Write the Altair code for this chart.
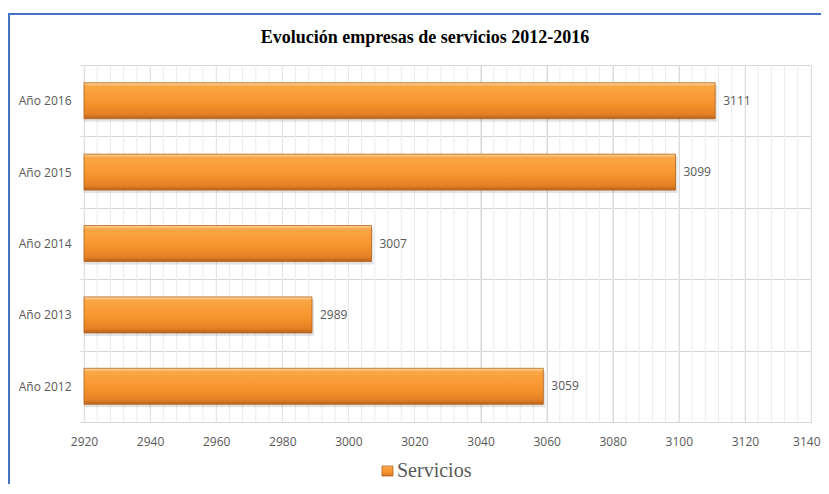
import altair as alt
import pandas as pd

# ---- data ----
years = ["Año 2016", "Año 2015", "Año 2014", "Año 2013", "Año 2012"]
values = [3111, 3099, 3007, 2989, 3059]
series_name = ["Servicios"]
chart_title = ["Evolución empresas de servicios 2012-2016"]
x_domain = [2920, 3140]
major_ticks = [2920, 2940, 2960, 2980, 3000, 3020, 3040, 3060, 3080, 3100, 3120, 3140]
minor_grid = list(range(2920, 3141, 4))

df = pd.DataFrame({"year": years, "value": values})
minor_df = pd.DataFrame({"g": minor_grid})

W, H = 727, 357
GRAY = "#595959"

bar_grad = alt.LinearGradient(
    gradient="linear", x1=0, x2=0, y1=0, y2=1,
    stops=[
        alt.GradientStop(offset=0.0, color="#FCD9A6"),
        alt.GradientStop(offset=0.10, color="#FAA645"),
        alt.GradientStop(offset=0.55, color="#F7952E"),
        alt.GradientStop(offset=0.88, color="#E48024"),
        alt.GradientStop(offset=1.0, color="#B5621C"),
    ],
)

xscale = alt.Scale(domain=x_domain, zero=False, nice=False)
yscale = alt.Scale(paddingInner=0, paddingOuter=0)

x_axis = alt.Axis(
    values=major_ticks,
    format="d",
    title=None,
    ticks=False,
    domain=False,
    grid=True,
    gridColor="#D6D6D6",
    labelFlush=False,
    labelOverlap=False,
    labelAlign={"condition": {"test": "datum.value >= 3140", "value": "right"}, "value": "center"},
    labelOffset={"condition": {"test": "datum.value >= 3140", "value": 9}, "value": 0},
    labelPadding=14,
    labelFont="Open Sans",
    labelFontSize=12,
    labelColor=GRAY,
)
y_axis = alt.Axis(
    title=None,
    tickBand="extent",
    grid=True,
    gridColor="#D6D6D6",
    domain=False,
    ticks=True,
    tickSize=4,
    tickColor="#D6D6D6",
    labelPadding=9,
    labelFont="Open Sans",
    labelFontSize=12,
    labelColor=GRAY,
)

minor = alt.Chart(minor_df).mark_rule(color="#EBEBEB", strokeWidth=1).encode(
    x=alt.X("g:Q", scale=xscale, axis=x_axis),
    y=alt.value(0),
    y2=alt.value(H),
)

base = alt.Chart(df)

shadow = base.mark_bar(size=36, color="#7F7F7F", opacity=0.22, yOffset=3, xOffset=2).encode(
    x=alt.X("value:Q", scale=xscale),
    x2=alt.datum(2920),
    y=alt.Y("year:N", sort=years, scale=yscale, axis=y_axis),
)

bars = base.mark_bar(size=36, color=bar_grad, stroke="#B8631C", strokeWidth=0.8).encode(
    x=alt.X("value:Q", scale=xscale),
    x2=alt.datum(2920),
    y=alt.Y("year:N", sort=years, scale=yscale),
)

labels = base.mark_text(align="left", baseline="middle", dx=8, font="Open Sans", fontSize=12, color=GRAY).encode(
    x=alt.X("value:Q", scale=xscale),
    y=alt.Y("year:N", sort=years, scale=yscale),
    text=alt.Text("value:Q", format="d"),
)

title_df = pd.DataFrame({"t": chart_title})
title = alt.Chart(title_df).mark_text(
    font="Liberation Serif", fontSize=18, fontWeight="bold", color="#000000",
    align="center", baseline="alphabetic",
).encode(x=alt.value(341), y=alt.value(-22), text="t:N")

leg_df = pd.DataFrame({"t": series_name})
leg_sym = alt.Chart(leg_df).mark_rect(color=bar_grad, stroke="#B8631C", strokeWidth=0.8).encode(
    x=alt.value(298), x2=alt.value(309), y=alt.value(401), y2=alt.value(411)
)
leg_txt = alt.Chart(leg_df).mark_text(
    font="Liberation Serif", fontSize=20, color=GRAY, align="left", baseline="alphabetic"
).encode(x=alt.value(313), y=alt.value(412), text="t:N")

frame = alt.Chart(leg_df).mark_rect(fill=None, stroke="#4472C4", strokeWidth=2).encode(
    x=alt.value(-75), x2=alt.value(W + 60), y=alt.value(-51), y2=alt.value(H + 120)
)

chart = alt.layer(frame, minor, shadow, bars, labels, title, leg_sym, leg_txt).properties(
    width=W, height=H,
    autosize=alt.AutoSizeParams(type="none"),
    padding={"left": 76, "top": 57, "right": 10, "bottom": 62},
).configure_view(stroke=None).configure(background="white")

chart.save("out.html", embed_options={"renderer": "svg", "actions": False})
